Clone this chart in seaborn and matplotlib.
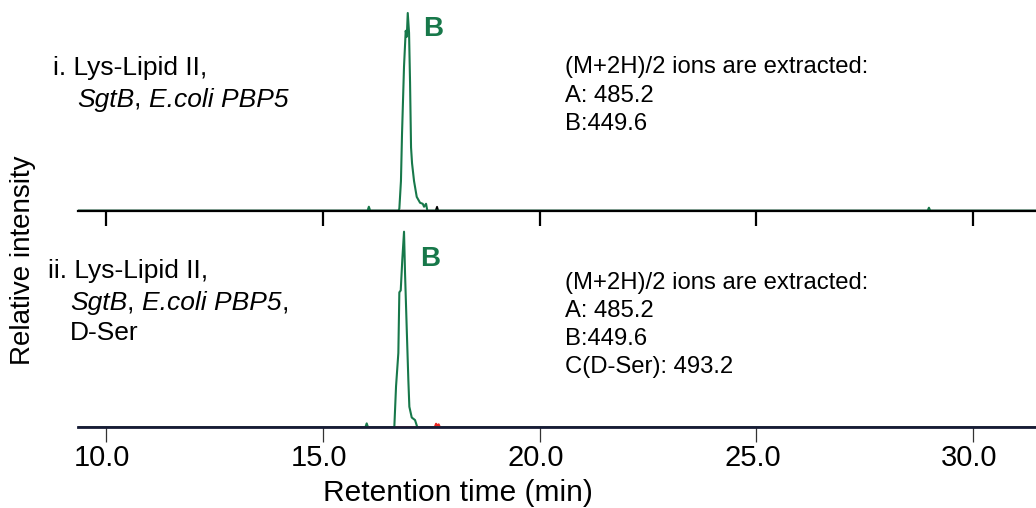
import matplotlib
matplotlib.use("Agg")
import matplotlib.pyplot as plt
import matplotlib.transforms as mtransforms
from matplotlib.ticker import FixedLocator, FormatStrFormatter
import seaborn as sns
import pandas as pd

# ---------------- data ----------------
x_ticks = [10.0, 15.0, 20.0, 25.0, 30.0]
x_range = [9.35, 31.45]

# Panel i: trace B (green, 449.6)
top_B_time = [9.35, 16.03, 16.06, 16.09, 16.74, 16.763, 16.80, 16.825, 16.871, 16.91, 16.935, 16.957,
              16.987, 17.010, 17.033, 17.056, 17.102, 17.164, 17.241, 17.303, 17.333,
              17.379, 17.409, 28.95, 28.98, 29.01, 31.45]
top_B_int = [0, 0, 0.02, 0, 0, 0.01, 0.15, 0.39, 0.73, 0.91, 0.88, 1.0,
             0.90, 0.65, 0.32, 0.24, 0.15, 0.07, 0.04, 0.035, 0.02,
             0.035, 0.0, 0, 0.015, 0, 0]
# Panel i: trace A (black, 485.2)
top_A_time = [9.35, 17.60, 17.633, 17.66, 31.45]
top_A_int = [0, 0, 0.02, 0, 0]

# Panel ii: trace B (green)
bot_B_time = [9.35, 15.98, 16.01, 16.04, 16.647, 16.687, 16.740, 16.763, 16.795, 16.832,
              16.871, 16.894, 16.934, 16.971, 16.994, 17.049, 17.125, 17.178, 31.45]
bot_B_int = [0, 0, 0.02, 0, 0.0, 0.21, 0.38, 0.69, 0.70, 0.86,
             1.0, 0.79, 0.50, 0.24, 0.105, 0.05, 0.037, 0.0, 0]
# Panel ii: trace C (red, D-Ser 493.2)
bot_C_time = [9.35, 17.58, 17.61, 17.64, 17.67, 17.70, 31.45]
bot_C_int = [0, 0, 0.018, 0.008, 0.015, 0, 0]

# sample labels as (text, italic) segments per line
top_label = [[("i. Lys-Lipid II,", False)],
             [("SgtB", True), (", ", False), ("E.coli PBP5", True)]]
bot_label = [[("ii. Lys-Lipid II,", False)],
             [("SgtB", True), (", ", False), ("E.coli PBP5", True), (",", False)],
             [("D-Ser", False)]]
top_ions = ["(M+2H)/2 ions are extracted:", "A: 485.2", "B:449.6"]
bot_ions = ["(M+2H)/2 ions are extracted:", "A: 485.2", "B:449.6", "C(D-Ser): 493.2"]
peak_label = "B"
x_label = "Retention time (min)"
y_label = "Relative intensity"

# ---------------- style ----------------
sns.set_theme(style="white")
plt.rcParams['font.family'] = ['Liberation Sans', 'DejaVu Sans']
plt.rcParams['text.color'] = 'black'
plt.rcParams['axes.labelcolor'] = 'black'
plt.rcParams['xtick.color'] = 'black'

GREEN = "#17784a"
RED = "#e8241f"
NAVY = "#161b36"

W, H = 1036, 508
fig = plt.figure(figsize=(W / 100, H / 100), dpi=100)
fig.patch.set_facecolor("white")

def fx(px):
    return px / W

def fy(py):
    return 1 - py / H

ax1 = fig.add_axes([fx(78), fy(210.7), fx(W - 78), 197.7 * 1.05 / H])
ax2 = fig.add_axes([fx(78), fy(427.3), fx(W - 78), 195.6 * 1.05 / H])

def draw(ax, t, v, color, lw):
    df = pd.DataFrame({"t": t, "v": v})
    sns.lineplot(data=df, x="t", y="v", ax=ax, color=color, lw=lw,
                 sort=False, estimator=None, legend=False)

draw(ax1, top_A_time, top_A_int, "black", 1.3)
draw(ax1, top_B_time, top_B_int, GREEN, 1.5)
draw(ax2, bot_C_time, bot_C_int, RED, 1.5)
draw(ax2, bot_B_time, bot_B_int, GREEN, 1.5)

for ax in (ax1, ax2):
    ax.set_xlim(*x_range)
    ax.set_ylim(0, 1.05)
    ax.set_facecolor("none")
    for s in ("top", "left", "right"):
        ax.spines[s].set_visible(False)
    ax.set_yticks([])
    ax.set_xlabel("")
    ax.set_ylabel("")
    ax.xaxis.set_major_locator(FixedLocator(x_ticks))

ax1.spines["bottom"].set_color("black")
ax1.spines["bottom"].set_linewidth(1.6)
ax1.tick_params(axis="x", direction="out", length=11, width=1.6, color="black",
                labelbottom=False, bottom=True)

ax2.spines["bottom"].set_color(NAVY)
ax2.spines["bottom"].set_linewidth(2.0)
ax2.xaxis.set_major_formatter(FormatStrFormatter("%.1f"))
ax2.tick_params(axis="x", direction="out", length=11, width=0.9, color="#333333",
                labelsize=21, pad=1, bottom=True, labelcolor="black")
shift = mtransforms.ScaledTranslation(-4 / 100, 0, fig.dpi_scale_trans)
for lab in ax2.get_xticklabels():
    lab.set_transform(lab.get_transform() + shift)

# ---------------- texts ----------------
renderer = fig.canvas.get_renderer()

def rich_line(x_px, y_px, segments, fs):
    x = x_px
    for txt, ital in segments:
        t = fig.text(fx(x), fy(y_px), txt, fontsize=fs, va="center", ha="left",
                     fontstyle="italic" if ital else "normal")
        bb = t.get_window_extent(renderer=renderer)
        x += bb.width

fs_lab = 19
rich_line(53, 68, top_label[0], fs_lab)
rich_line(77, 100, top_label[1], fs_lab)

rich_line(48, 271, bot_label[0], fs_lab)
rich_line(70, 303, bot_label[1], fs_lab)
rich_line(70, 333, bot_label[2], fs_lab)

fs_ion = 17.2
for i, s in enumerate(top_ions):
    fig.text(fx(565), fy(67 + i * 28.5), s, fontsize=fs_ion, va="center", ha="left")
for i, s in enumerate(bot_ions):
    fig.text(fx(565), fy(283 + i * 28), s, fontsize=fs_ion, va="center", ha="left")

fig.text(fx(433), fy(29), peak_label, fontsize=20, fontweight="bold", color=GREEN,
         va="center", ha="center")
fig.text(fx(430), fy(259), peak_label, fontsize=20, fontweight="bold", color=GREEN,
         va="center", ha="center")

fig.text(fx(458), fy(493), x_label, fontsize=21.5, va="center", ha="center")
fig.text(fx(23), fy(260), y_label, fontsize=20, va="center", ha="center", rotation=90)

fig.savefig("out.png", dpi=100, facecolor="white")
